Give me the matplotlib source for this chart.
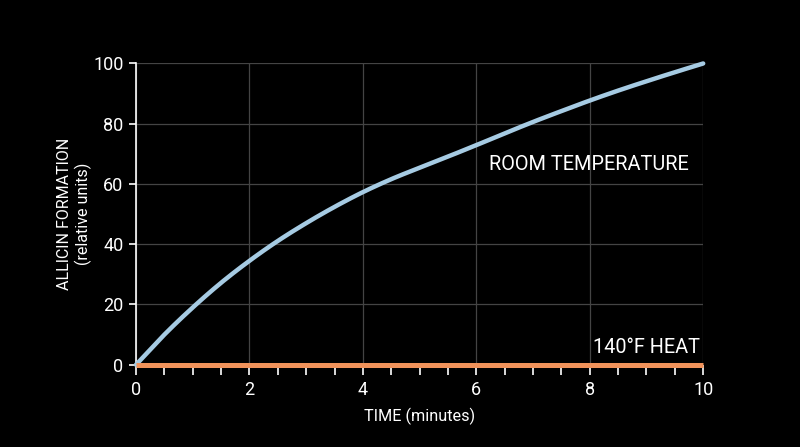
import numpy as np
import matplotlib
matplotlib.use("Agg")
import matplotlib.pyplot as plt
from matplotlib.ticker import MultipleLocator

plt.rcParams['font.family'] = ['Roboto', 'DejaVu Sans']

# data
minutes = [0, 0.5, 1, 1.5, 2, 2.5, 3, 3.5, 4, 4.5, 5, 5.5, 6, 6.5, 7, 7.5, 8, 8.5, 9, 9.5, 10]
room_temp = [0, 10.0, 19.0, 27.2, 34.5, 41.1, 47.0, 52.4, 57.3, 61.6, 65.4, 69.1, 72.9,
             76.8, 80.6, 84.2, 87.7, 91.0, 94.1, 97.1, 100]
heat_minutes = [0, 10]
heat_140f = [0, 0]


def catmull_rom(x, y, n=12):
    # smooth curve through the read-off points
    x = np.asarray(x, float)
    y = np.asarray(y, float)
    px = np.concatenate([[2 * x[0] - x[1]], x, [2 * x[-1] - x[-2]]])
    py = np.concatenate([[2 * y[0] - y[1]], y, [2 * y[-1] - y[-2]]])
    outx, outy = [], []
    t = np.linspace(0, 1, n, endpoint=False)
    for i in range(1, len(px) - 2):
        for p, out in ((px, outx), (py, outy)):
            p0, p1, p2, p3 = p[i - 1], p[i], p[i + 1], p[i + 2]
            out.extend(0.5 * (2 * p1 + (-p0 + p2) * t
                              + (2 * p0 - 5 * p1 + 4 * p2 - p3) * t ** 2
                              + (-p0 + 3 * p1 - 3 * p2 + p3) * t ** 3))
    outx.append(x[-1])
    outy.append(y[-1])
    return outx, outy


fig = plt.figure(figsize=(8, 4.47), dpi=100, facecolor='black')
ax = fig.add_axes([0.17, 0.184, 0.709, 0.674])
ax.set_facecolor('black')

cx, cy = catmull_rom(minutes, room_temp)
ax.plot(cx, cy, color='#a6cbe3', lw=3.2, solid_capstyle='round', zorder=3, clip_on=False)
ax.plot(heat_minutes, heat_140f, color='#f0925a', lw=3.6, solid_capstyle='butt',
        zorder=4, clip_on=False)

ax.set_xlim(0, 10)
ax.set_ylim(0, 100)
ax.xaxis.set_major_locator(MultipleLocator(2))
ax.xaxis.set_minor_locator(MultipleLocator(0.5))
ax.yaxis.set_major_locator(MultipleLocator(20))

ax.grid(True, which='major', color='#444444', lw=0.9)
ax.set_axisbelow(True)

for s in ['top', 'right', 'bottom']:
    ax.spines[s].set_visible(False)
ax.spines['left'].set_color('white')
ax.spines['left'].set_linewidth(1.2)

ax.tick_params(axis='both', which='both', colors='white', direction='out',
               labelsize=13, width=1.2)
ax.tick_params(axis='x', which='major', length=7, pad=5)
ax.tick_params(axis='x', which='minor', length=7)
ax.tick_params(axis='y', length=5, pad=4)

ax.set_xlabel('TIME (minutes)', color='white', fontsize=11.7, labelpad=6)
ax.set_ylabel('ALLICIN FORMATION\n(relative units)', color='white',
              fontsize=11.5, labelpad=1, linespacing=1.15)

ax.text(9.75, 66.5, 'ROOM TEMPERATURE', color='white', fontsize=14.3,
        ha='right', va='center')
ax.text(9.95, 5.8, '140°F HEAT', color='white', fontsize=14.3,
        ha='right', va='center')

fig.savefig('out.png', dpi=100, facecolor='black')
